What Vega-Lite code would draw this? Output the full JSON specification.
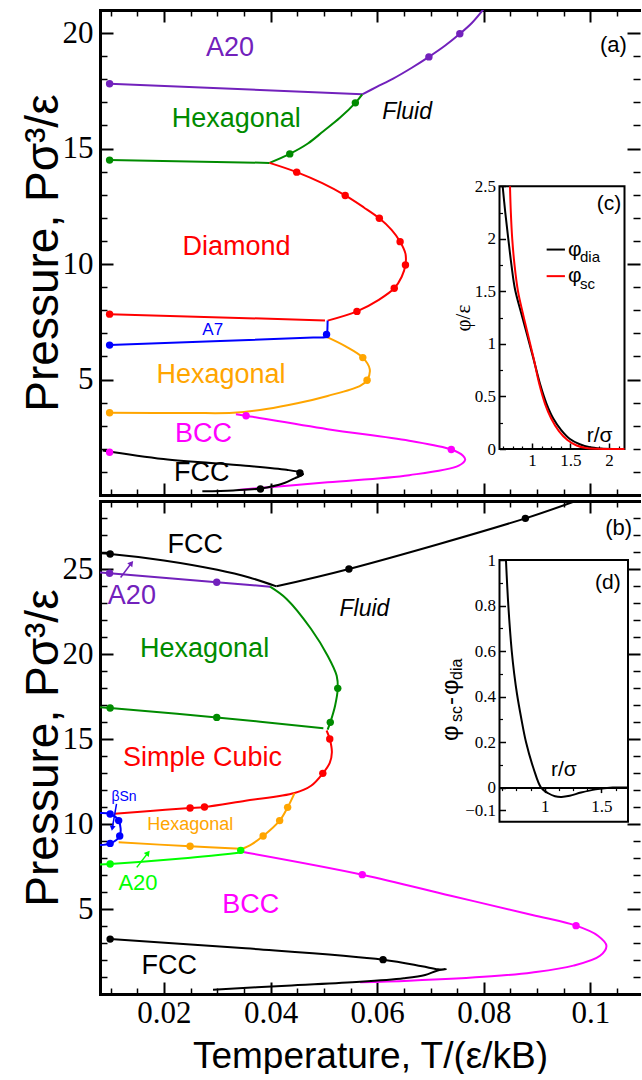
{
"$schema": "https://vega.github.io/schema/vega-lite/v6.json",
"padding": {"left": 20, "top": 9, "right": 0, "bottom": 0},
"background": "white",
"spacing": 4,
"config": {
  "view": {"stroke": null},
  "axis": {"grid": false, "domain": false, "minExtent": 0, "zindex": 1, "tickColor": "black", "labelColor": "black", "titleColor": "black", "tickWidth": 2, "labelOverlap": false, "domainColor": "black", "domainWidth": 3, "domainCap": "square"},
  "text": {"font": "Liberation Sans"},
  "font": "Liberation Sans"
},
"datasets": {
  "lines_a": [
    {"c":"a1","ph":"A20","i":0,"T":0.0572,"P":17.35},{"c":"a1","ph":"A20","i":1,"T":0.0600,"P":17.68},{"c":"a1","ph":"A20","i":2,"T":0.0630,"P":18.03},{"c":"a1","ph":"A20","i":3,"T":0.0665,"P":18.5},{"c":"a1","ph":"A20","i":4,"T":0.0697,"P":18.97},{"c":"a1","ph":"A20","i":5,"T":0.0727,"P":19.45},{"c":"a1","ph":"A20","i":6,"T":0.0755,"P":19.97},{"c":"a1","ph":"A20","i":7,"T":0.0778,"P":20.45},{"c":"a1","ph":"A20","i":8,"T":0.0800,"P":21.05},
    {"c":"a2","ph":"A20","i":0,"T":0.0098,"P":17.81},{"c":"a2","ph":"A20","i":1,"T":0.0572,"P":17.35},
    {"c":"a3","ph":"Hexagonal","i":0,"T":0.0398,"P":14.38},{"c":"a3","ph":"Hexagonal","i":1,"T":0.0436,"P":14.77},{"c":"a3","ph":"Hexagonal","i":2,"T":0.047,"P":15.22},{"c":"a3","ph":"Hexagonal","i":3,"T":0.0499,"P":15.75},{"c":"a3","ph":"Hexagonal","i":4,"T":0.053,"P":16.33},{"c":"a3","ph":"Hexagonal","i":5,"T":0.0559,"P":16.98},{"c":"a3","ph":"Hexagonal","i":6,"T":0.0572,"P":17.35},
    {"c":"a4","ph":"Hexagonal","i":0,"T":0.0098,"P":14.5},{"c":"a4","ph":"Hexagonal","i":1,"T":0.0398,"P":14.38},
    {"c":"a5","ph":"Diamond","i":0,"T":0.0398,"P":14.38},{"c":"a5","ph":"Diamond","i":1,"T":0.0449,"P":13.98},{"c":"a5","ph":"Diamond","i":2,"T":0.0497,"P":13.5},{"c":"a5","ph":"Diamond","i":3,"T":0.054,"P":12.97},{"c":"a5","ph":"Diamond","i":4,"T":0.0575,"P":12.45},{"c":"a5","ph":"Diamond","i":5,"T":0.0604,"P":11.98},{"c":"a5","ph":"Diamond","i":6,"T":0.0627,"P":11.48},{"c":"a5","ph":"Diamond","i":7,"T":0.0643,"P":10.97},{"c":"a5","ph":"Diamond","i":8,"T":0.0653,"P":10.45},{"c":"a5","ph":"Diamond","i":9,"T":0.0653,"P":9.96},{"c":"a5","ph":"Diamond","i":10,"T":0.0646,"P":9.45},{"c":"a5","ph":"Diamond","i":11,"T":0.0632,"P":8.95},{"c":"a5","ph":"Diamond","i":12,"T":0.0603,"P":8.45},{"c":"a5","ph":"Diamond","i":13,"T":0.0562,"P":7.95},{"c":"a5","ph":"Diamond","i":14,"T":0.0507,"P":7.55},
    {"c":"a6","ph":"Diamond","i":0,"T":0.0098,"P":7.83},{"c":"a6","ph":"Diamond","i":1,"T":0.0502,"P":7.56},
    {"c":"a7","ph":"A7","i":0,"T":0.0098,"P":6.49},{"c":"a7","ph":"A7","i":1,"T":0.048,"P":6.82},{"c":"a7","ph":"A7","i":2,"T":0.0505,"P":6.85},{"c":"a7","ph":"A7","i":3,"T":0.0506,"P":6.95},{"c":"a7","ph":"A7","i":4,"T":0.0507,"P":7.55},
    {"c":"a8","ph":"HexagonalLow","i":0,"T":0.0098,"P":3.56},{"c":"a8","ph":"HexagonalLow","i":1,"T":0.025,"P":3.55},{"c":"a8","ph":"HexagonalLow","i":2,"T":0.033,"P":3.56},{"c":"a8","ph":"HexagonalLow","i":3,"T":0.0392,"P":3.72},{"c":"a8","ph":"HexagonalLow","i":4,"T":0.045,"P":3.97},{"c":"a8","ph":"HexagonalLow","i":5,"T":0.0507,"P":4.29},{"c":"a8","ph":"HexagonalLow","i":6,"T":0.0568,"P":4.73},{"c":"a8","ph":"HexagonalLow","i":7,"T":0.0581,"P":4.97},{"c":"a8","ph":"HexagonalLow","i":8,"T":0.0586,"P":5.45},{"c":"a8","ph":"HexagonalLow","i":9,"T":0.0573,"P":5.95},{"c":"a8","ph":"HexagonalLow","i":10,"T":0.054,"P":6.45},{"c":"a8","ph":"HexagonalLow","i":11,"T":0.0505,"P":6.85},
    {"c":"a9","ph":"BCC","i":0,"T":0.0335,"P":3.5},{"c":"a9","ph":"BCC","i":1,"T":0.0354,"P":3.43},{"c":"a9","ph":"BCC","i":2,"T":0.0507,"P":2.85},{"c":"a9","ph":"BCC","i":3,"T":0.066,"P":2.35},{"c":"a9","ph":"BCC","i":4,"T":0.0739,"P":1.97},{"c":"a9","ph":"BCC","i":5,"T":0.0761,"P":1.7},{"c":"a9","ph":"BCC","i":6,"T":0.0765,"P":1.53},{"c":"a9","ph":"BCC","i":7,"T":0.0753,"P":1.27},{"c":"a9","ph":"BCC","i":8,"T":0.066,"P":0.86},{"c":"a9","ph":"BCC","i":9,"T":0.0507,"P":0.55},{"c":"a9","ph":"BCC","i":10,"T":0.0338,"P":0.22},
    {"c":"a10","ph":"FCC","i":0,"T":0.0085,"P":1.93},{"c":"a10","ph":"FCC","i":1,"T":0.0199,"P":1.56},{"c":"a10","ph":"FCC","i":2,"T":0.0353,"P":1.27},{"c":"a10","ph":"FCC","i":3,"T":0.043,"P":1.09},{"c":"a10","ph":"FCC","i":4,"T":0.0457,"P":0.97},{"c":"a10","ph":"FCC","i":5,"T":0.0461,"P":0.9},{"c":"a10","ph":"FCC","i":6,"T":0.0445,"P":0.72},{"c":"a10","ph":"FCC","i":7,"T":0.0426,"P":0.52},{"c":"a10","ph":"FCC","i":8,"T":0.0381,"P":0.28},{"c":"a10","ph":"FCC","i":9,"T":0.033,"P":0.2},{"c":"a10","ph":"FCC","i":10,"T":0.0272,"P":0.16}
  ],
  "dots_a": [
    {"ph":"A20","T":0.0098,"P":17.81},{"ph":"A20","T":0.0697,"P":18.97},{"ph":"A20","T":0.0755,"P":19.97},
    {"ph":"Hexagonal","T":0.0098,"P":14.5},{"ph":"Hexagonal","T":0.0436,"P":14.77},{"ph":"Hexagonal","T":0.0559,"P":16.98},
    {"ph":"Diamond","T":0.0098,"P":7.83},{"ph":"Diamond","T":0.0449,"P":13.98},{"ph":"Diamond","T":0.054,"P":12.97},{"ph":"Diamond","T":0.0604,"P":11.98},{"ph":"Diamond","T":0.0643,"P":10.97},{"ph":"Diamond","T":0.0653,"P":9.96},{"ph":"Diamond","T":0.0632,"P":8.95},{"ph":"Diamond","T":0.0562,"P":7.95},
    {"ph":"A7","T":0.0098,"P":6.49},{"ph":"A7","T":0.0505,"P":6.95},
    {"ph":"HexagonalLow","T":0.0098,"P":3.56},{"ph":"HexagonalLow","T":0.0573,"P":5.95},{"ph":"HexagonalLow","T":0.0581,"P":4.97},
    {"ph":"BCC","T":0.0098,"P":1.85},{"ph":"BCC","T":0.0354,"P":3.43},{"ph":"BCC","T":0.0739,"P":1.97},
    {"ph":"FCC","T":0.0455,"P":0.95},{"ph":"FCC","T":0.0381,"P":0.26}
  ],
  "lab_a27": [
    {"T":0.0324,"P":19.36,"label":"A20","ph":"A20"},
    {"T":0.03355,"P":16.3,"label":"Hexagonal","ph":"Hexagonal"},
    {"T":0.0336,"P":10.72,"label":"Diamond","ph":"Diamond"},
    {"T":0.0307,"P":5.19,"label":"Hexagonal","ph":"HexagonalLow"},
    {"T":0.02743,"P":2.64,"label":"BCC","ph":"BCC"},
    {"T":0.02707,"P":0.95,"label":"FCC","ph":"FCC"}
  ],
  "lines_b": [
    {"c":"b1","ph":"FCC","i":0,"T":0.0411,"P":23.98},{"c":"b1","ph":"FCC","i":1,"T":0.0547,"P":25.0},{"c":"b1","ph":"FCC","i":2,"T":0.0878,"P":27.98},{"c":"b1","ph":"FCC","i":3,"T":0.0972,"P":29.0},
    {"c":"b2","ph":"FCC","i":0,"T":0.008,"P":25.92},{"c":"b2","ph":"FCC","i":1,"T":0.0099,"P":25.88},{"c":"b2","ph":"FCC","i":2,"T":0.02,"P":25.5},{"c":"b2","ph":"FCC","i":3,"T":0.03,"P":24.95},{"c":"b2","ph":"FCC","i":4,"T":0.036,"P":24.5},{"c":"b2","ph":"FCC","i":5,"T":0.0411,"P":23.98},
    {"c":"b3","ph":"A20","i":0,"T":0.008,"P":24.8},{"c":"b3","ph":"A20","i":1,"T":0.0098,"P":24.75},{"c":"b3","ph":"A20","i":2,"T":0.0299,"P":24.22},{"c":"b3","ph":"A20","i":3,"T":0.0399,"P":23.96},
    {"c":"b4","ph":"Hexagonal","i":0,"T":0.0399,"P":23.96},{"c":"b4","ph":"Hexagonal","i":1,"T":0.043,"P":23.24},{"c":"b4","ph":"Hexagonal","i":2,"T":0.0476,"P":21.47},{"c":"b4","ph":"Hexagonal","i":3,"T":0.0507,"P":19.9},{"c":"b4","ph":"Hexagonal","i":4,"T":0.0524,"P":18.72},{"c":"b4","ph":"Hexagonal","i":5,"T":0.0526,"P":17.98},{"c":"b4","ph":"Hexagonal","i":6,"T":0.0521,"P":16.96},{"c":"b4","ph":"Hexagonal","i":7,"T":0.0512,"P":15.98},{"c":"b4","ph":"Hexagonal","i":8,"T":0.0507,"P":15.55},
    {"c":"b5","ph":"Hexagonal","i":0,"T":0.008,"P":16.87},{"c":"b5","ph":"Hexagonal","i":1,"T":0.0099,"P":16.82},{"c":"b5","ph":"Hexagonal","i":2,"T":0.0299,"P":16.27},{"c":"b5","ph":"Hexagonal","i":3,"T":0.0499,"P":15.63},
    {"c":"b6","ph":"SimpleCubic","i":0,"T":0.0505,"P":15.5},{"c":"b6","ph":"SimpleCubic","i":1,"T":0.0511,"P":15.0},{"c":"b6","ph":"SimpleCubic","i":2,"T":0.0515,"P":14.22},{"c":"b6","ph":"SimpleCubic","i":3,"T":0.0511,"P":13.6},{"c":"b6","ph":"SimpleCubic","i":4,"T":0.0498,"P":12.98},{"c":"b6","ph":"SimpleCubic","i":5,"T":0.0476,"P":12.25},{"c":"b6","ph":"SimpleCubic","i":6,"T":0.0445,"P":11.82},{"c":"b6","ph":"SimpleCubic","i":7,"T":0.0353,"P":11.37},{"c":"b6","ph":"SimpleCubic","i":8,"T":0.0276,"P":11.0},{"c":"b6","ph":"SimpleCubic","i":9,"T":0.0249,"P":10.94},{"c":"b6","ph":"SimpleCubic","i":10,"T":0.018,"P":10.78},{"c":"b6","ph":"SimpleCubic","i":11,"T":0.0107,"P":10.6},
    {"c":"b7","ph":"HexagonalLow","i":0,"T":0.0445,"P":11.82},{"c":"b7","ph":"HexagonalLow","i":1,"T":0.0432,"P":10.98},{"c":"b7","ph":"HexagonalLow","i":2,"T":0.0417,"P":10.2},{"c":"b7","ph":"HexagonalLow","i":3,"T":0.0386,"P":9.29},{"c":"b7","ph":"HexagonalLow","i":4,"T":0.0365,"P":8.82},{"c":"b7","ph":"HexagonalLow","i":5,"T":0.0344,"P":8.5},
    {"c":"b8","ph":"HexagonalLow","i":0,"T":0.0115,"P":8.92},{"c":"b8","ph":"HexagonalLow","i":1,"T":0.0249,"P":8.69},{"c":"b8","ph":"HexagonalLow","i":2,"T":0.0344,"P":8.55},
    {"c":"b9","ph":"betaSn","i":0,"T":0.008,"P":10.65},{"c":"b9","ph":"betaSn","i":1,"T":0.0099,"P":10.59},{"c":"b9","ph":"betaSn","i":2,"T":0.0115,"P":10.2},{"c":"b9","ph":"betaSn","i":3,"T":0.0117,"P":9.29},{"c":"b9","ph":"betaSn","i":4,"T":0.0099,"P":8.86},{"c":"b9","ph":"betaSn","i":5,"T":0.008,"P":8.76},
    {"c":"b10","ph":"A20Low","i":0,"T":0.008,"P":7.62},{"c":"b10","ph":"A20Low","i":1,"T":0.0099,"P":7.65},{"c":"b10","ph":"A20Low","i":2,"T":0.0222,"P":7.94},{"c":"b10","ph":"A20Low","i":3,"T":0.0344,"P":8.33},
    {"c":"b11","ph":"BCC","i":0,"T":0.0344,"P":8.38},{"c":"b11","ph":"BCC","i":1,"T":0.0572,"P":7.02},{"c":"b11","ph":"BCC","i":2,"T":0.0738,"P":5.78},{"c":"b11","ph":"BCC","i":3,"T":0.0891,"P":4.65},{"c":"b11","ph":"BCC","i":4,"T":0.0973,"P":4.02},{"c":"b11","ph":"BCC","i":5,"T":0.1014,"P":3.43},{"c":"b11","ph":"BCC","i":6,"T":0.103,"P":2.84},{"c":"b11","ph":"BCC","i":7,"T":0.1018,"P":2.25},{"c":"b11","ph":"BCC","i":8,"T":0.0968,"P":1.67},{"c":"b11","ph":"BCC","i":9,"T":0.0891,"P":1.27},{"c":"b11","ph":"BCC","i":10,"T":0.0814,"P":1.04},{"c":"b11","ph":"BCC","i":11,"T":0.066,"P":0.78},{"c":"b11","ph":"BCC","i":12,"T":0.0568,"P":0.69},
    {"c":"b12","ph":"FCC","i":0,"T":0.0099,"P":3.23},{"c":"b12","ph":"FCC","i":1,"T":0.0353,"P":2.69},{"c":"b12","ph":"FCC","i":2,"T":0.0611,"P":2.02},{"c":"b12","ph":"FCC","i":3,"T":0.0684,"P":1.63},{"c":"b12","ph":"FCC","i":4,"T":0.0714,"P":1.45},{"c":"b12","ph":"FCC","i":5,"T":0.0729,"P":1.46},{"c":"b12","ph":"FCC","i":6,"T":0.0712,"P":1.37},{"c":"b12","ph":"FCC","i":7,"T":0.069,"P":1.12},{"c":"b12","ph":"FCC","i":8,"T":0.065,"P":0.93},{"c":"b12","ph":"FCC","i":9,"T":0.0568,"P":0.72},{"c":"b12","ph":"FCC","i":10,"T":0.043,"P":0.49},{"c":"b12","ph":"FCC","i":11,"T":0.0292,"P":0.25}
  ],
  "dots_b": [
    {"ph":"FCC","T":0.0099,"P":25.88},{"ph":"FCC","T":0.0547,"P":25.0},{"ph":"FCC","T":0.0878,"P":27.98},{"ph":"FCC","T":0.0099,"P":3.23},{"ph":"FCC","T":0.0611,"P":2.02},
    {"ph":"A20","T":0.0098,"P":24.75},{"ph":"A20","T":0.0299,"P":24.22},
    {"ph":"Hexagonal","T":0.0099,"P":16.82},{"ph":"Hexagonal","T":0.0299,"P":16.27},{"ph":"Hexagonal","T":0.0526,"P":17.98},{"ph":"Hexagonal","T":0.0512,"P":15.98},
    {"ph":"SimpleCubic","T":0.0511,"P":15.0},{"ph":"SimpleCubic","T":0.0498,"P":12.98},{"ph":"SimpleCubic","T":0.0276,"P":11.0},{"ph":"SimpleCubic","T":0.0249,"P":10.94},
    {"ph":"HexagonalLow","T":0.0432,"P":10.98},{"ph":"HexagonalLow","T":0.0417,"P":10.2},{"ph":"HexagonalLow","T":0.0386,"P":9.29},{"ph":"HexagonalLow","T":0.0249,"P":8.69},
    {"ph":"betaSn","T":0.0099,"P":10.59},{"ph":"betaSn","T":0.0115,"P":10.2},{"ph":"betaSn","T":0.0117,"P":9.29},{"ph":"betaSn","T":0.0099,"P":8.86},
    {"ph":"A20Low","T":0.0099,"P":7.65},{"ph":"A20Low","T":0.0344,"P":8.45},
    {"ph":"BCC","T":0.0572,"P":7.02},{"ph":"BCC","T":0.0973,"P":4.02}
  ],
  "lab_b27": [
    {"T":0.02589,"P":26.42,"label":"FCC","ph":"FCC"},
    {"T":0.01398,"P":23.43,"label":"A20","ph":"A20"},
    {"T":0.02762,"P":20.3,"label":"Hexagonal","ph":"Hexagonal"},
    {"T":0.02724,"P":13.88,"label":"Simple Cubic","ph":"SimpleCubic"},
    {"T":0.03627,"P":5.24,"label":"BCC","ph":"BCC"},
    {"T":0.02101,"P":1.62,"label":"FCC","ph":"FCC"}
  ],
  "arrows_b": [
    {"ph":"A20","T":0.01186,"P":24.5,"T2":0.0139,"P2":25.35},
    {"ph":"A20Low","T":0.0149,"P":7.45,"T2":0.017,"P2":8.3},
    {"ph":"betaSn","T":0.0111,"P":11.18,"T2":0.0103,"P2":9.75}
  ],
  "heads_b": [
    {"ph":"A20","T":0.0139,"P":25.35},
    {"ph":"A20Low","T":0.017,"P":8.3},
    {"ph":"betaSn","T":0.0103,"P":9.75}
  ],
  "inset_c": [
    {"ph":"dia","i":0,"r":0.621,"v":2.5},{"ph":"dia","i":1,"r":0.655,"v":2.25},{"ph":"dia","i":2,"r":0.694,"v":2.0},{"ph":"dia","i":3,"r":0.735,"v":1.75},{"ph":"dia","i":4,"r":0.781,"v":1.52},{"ph":"dia","i":5,"r":0.87,"v":1.27},{"ph":"dia","i":6,"r":0.94,"v":1.08},{"ph":"dia","i":7,"r":1.02,"v":0.86},{"ph":"dia","i":8,"r":1.105,"v":0.62},{"ph":"dia","i":9,"r":1.19,"v":0.43},{"ph":"dia","i":10,"r":1.277,"v":0.29},{"ph":"dia","i":11,"r":1.38,"v":0.18},{"ph":"dia","i":12,"r":1.493,"v":0.095},{"ph":"dia","i":13,"r":1.62,"v":0.045},{"ph":"dia","i":14,"r":1.752,"v":0.016},{"ph":"dia","i":15,"r":1.9,"v":0.004},{"ph":"dia","i":16,"r":2.05,"v":0.0},{"ph":"dia","i":17,"r":2.2,"v":0.0},
    {"ph":"sc","i":0,"r":0.716,"v":2.5},{"ph":"sc","i":1,"r":0.727,"v":2.25},{"ph":"sc","i":2,"r":0.745,"v":2.0},{"ph":"sc","i":3,"r":0.775,"v":1.75},{"ph":"sc","i":4,"r":0.82,"v":1.5},{"ph":"sc","i":5,"r":0.88,"v":1.3},{"ph":"sc","i":6,"r":0.945,"v":1.1},{"ph":"sc","i":7,"r":1.02,"v":0.87},{"ph":"sc","i":8,"r":1.095,"v":0.62},{"ph":"sc","i":9,"r":1.17,"v":0.43},{"ph":"sc","i":10,"r":1.25,"v":0.29},{"ph":"sc","i":11,"r":1.35,"v":0.17},{"ph":"sc","i":12,"r":1.46,"v":0.085},{"ph":"sc","i":13,"r":1.58,"v":0.033},{"ph":"sc","i":14,"r":1.7,"v":0.01},{"ph":"sc","i":15,"r":1.85,"v":0.002},{"ph":"sc","i":16,"r":2.05,"v":0.0},{"ph":"sc","i":17,"r":2.2,"v":0.0}
  ],
  "inset_d": [
    {"i":0,"r":0.657,"v":1.0},{"i":1,"r":0.678,"v":0.8},{"i":2,"r":0.708,"v":0.6},{"i":3,"r":0.73,"v":0.5},{"i":4,"r":0.755,"v":0.41},{"i":5,"r":0.79,"v":0.31},{"i":6,"r":0.834,"v":0.2},{"i":7,"r":0.9,"v":0.085},{"i":8,"r":0.967,"v":0.0},{"i":9,"r":1.03,"v":-0.025},{"i":10,"r":1.09,"v":-0.038},{"i":11,"r":1.148,"v":-0.041},{"i":12,"r":1.22,"v":-0.036},{"i":13,"r":1.32,"v":-0.022},{"i":14,"r":1.45,"v":-0.008},{"i":15,"r":1.6,"v":0.0},{"i":16,"r":1.735,"v":0.0}
  ]
},
"vconcat": [
{
  "width": 540, "height": 485,
  "resolve": {"scale": {"x": "independent", "y": "independent"}},
  "layer": [
    {
      "encoding": {
        "x": {"field": "T", "type": "quantitative", "scale": {"domain": [0.008, 0.1093], "nice": false, "zero": false}, "axis": null},
        "y": {"field": "P", "type": "quantitative", "scale": {"domain": [0, 21], "nice": false, "zero": false}, "axis": null}
      },
      "resolve": {"axis": {"x": "independent", "y": "independent"}},
      "layer": [
        {"data": {"name": "dots_a"}, "mark": {"type": "point", "opacity": 0},
         "encoding": {
           "x": {"field": "T", "type": "quantitative", "scale": {"domain": [0.008, 0.1093], "nice": false, "zero": false}, "axis": {"orient": "bottom", "values": [0.02, 0.04, 0.06, 0.08, 0.1], "tickSize": -12, "labels": false, "title": null, "domain": true}},
           "y": {"field": "P", "type": "quantitative", "scale": {"domain": [0, 21], "nice": false, "zero": false}, "axis": {"orient": "left", "domain": true, "values": [5, 10, 15, 20], "tickSize": -13, "labelPadding": 20, "labelFont": "Liberation Serif", "labelFontSize": 31, "format": "d", "title": "Pressure, Pσ³/ε", "titleFont": "Liberation Sans", "titleFontSize": 46, "titleFontWeight": "normal", "titleBaseline": "alphabetic", "titlePadding": 5}}
         }},
        {"data": {"name": "dots_a"}, "mark": {"type": "point", "opacity": 0},
         "encoding": {
           "x": {"field": "T", "type": "quantitative", "scale": {"domain": [0.008, 0.1093], "nice": false, "zero": false}, "axis": {"orient": "bottom", "values": [0.01, 0.015, 0.025, 0.03, 0.035, 0.045, 0.05, 0.055, 0.065, 0.07, 0.075, 0.085, 0.09, 0.095, 0.105], "tickSize": -6, "tickWidth": 1.5, "labels": false, "title": null}},
           "y": {"field": "P", "type": "quantitative", "scale": {"domain": [0, 21], "nice": false, "zero": false}, "axis": {"orient": "left", "values": [1, 2, 3, 4, 6, 7, 8, 9, 11, 12, 13, 14, 16, 17, 18, 19], "tickSize": -7, "tickWidth": 1.5, "labels": false, "title": null}}
         }},
        {"data": {"name": "dots_a"}, "mark": {"type": "point", "opacity": 0},
         "encoding": {
           "x": {"field": "T", "type": "quantitative", "scale": {"domain": [0.008, 0.1093], "nice": false, "zero": false}, "axis": {"orient": "top", "domain": true, "values": [0.02, 0.04, 0.06, 0.08, 0.1], "tickSize": -12, "labels": false, "title": null}},
           "y": {"field": "P", "type": "quantitative", "scale": {"domain": [0, 21], "nice": false, "zero": false}, "axis": {"orient": "right", "values": [5, 10, 15, 20], "tickSize": -13, "labels": false, "title": null}}
         }},
        {"data": {"name": "dots_a"}, "mark": {"type": "point", "opacity": 0},
         "encoding": {
           "x": {"field": "T", "type": "quantitative", "scale": {"domain": [0.008, 0.1093], "nice": false, "zero": false}, "axis": {"orient": "top", "values": [0.01, 0.015, 0.025, 0.03, 0.035, 0.045, 0.05, 0.055, 0.065, 0.07, 0.075, 0.085, 0.09, 0.095, 0.105], "tickSize": -6, "tickWidth": 1.5, "labels": false, "title": null}},
           "y": {"field": "P", "type": "quantitative", "scale": {"domain": [0, 21], "nice": false, "zero": false}, "axis": {"orient": "right", "values": [1, 2, 3, 4, 6, 7, 8, 9, 11, 12, 13, 14, 16, 17, 18, 19], "tickSize": -7, "tickWidth": 1.5, "labels": false, "title": null}}
         }},
        {"data": {"name": "lines_a"}, "mark": {"type": "line", "strokeWidth": 2, "interpolate": "catmull-rom", "clip": true},
         "encoding": {"detail": {"field": "c", "type": "nominal"}, "order": {"field": "i", "type": "quantitative"},
           "color": {"field": "ph", "type": "nominal", "legend": null, "scale": {"domain": ["A20","Hexagonal","Diamond","SimpleCubic","A7","betaSn","HexagonalLow","BCC","FCC","A20Low","dia","sc"], "range": ["#7221bc","#008b00","#ff0000","#ff0000","#0000ff","#0000ff","#ffa500","#ff00ff","#000000","#00ff00","#000000","#ff0000"]}}}},
        {"data": {"name": "dots_a"}, "mark": {"type": "point", "filled": true, "size": 55, "opacity": 1},
         "encoding": {"color": {"field": "ph", "type": "nominal", "legend": null, "scale": {"domain": ["A20","Hexagonal","Diamond","SimpleCubic","A7","betaSn","HexagonalLow","BCC","FCC","A20Low","dia","sc"], "range": ["#7221bc","#008b00","#ff0000","#ff0000","#0000ff","#0000ff","#ffa500","#ff00ff","#000000","#00ff00","#000000","#ff0000"]}}}},
        {"data": {"name": "lab_a27"}, "mark": {"type": "text", "fontSize": 27, "align": "center", "baseline": "middle"},
         "encoding": {"text": {"field": "label"}, "color": {"field": "ph", "type": "nominal", "legend": null, "scale": {"domain": ["A20","Hexagonal","Diamond","SimpleCubic","A7","betaSn","HexagonalLow","BCC","FCC","A20Low","dia","sc"], "range": ["#7221bc","#008b00","#ff0000","#ff0000","#0000ff","#0000ff","#ffa500","#ff00ff","#000000","#00ff00","#000000","#ff0000"]}}}},
        {"data": {"values": [{"T": 0.02914, "P": 7.13, "label": "A7"}]}, "mark": {"type": "text", "fontSize": 17, "color": "#0000ff", "align": "center", "baseline": "middle"},
         "encoding": {"text": {"field": "label"}}},
        {"data": {"values": [{"T": 0.0656, "P": 16.57, "label": "Fluid"}]}, "mark": {"type": "text", "fontSize": 23, "fontStyle": "italic", "color": "black", "align": "center", "baseline": "middle"},
         "encoding": {"text": {"field": "label"}}},
        {"data": {"values": [{"T": 0.1043, "P": 19.5, "label": "(a)"}]}, "mark": {"type": "text", "fontSize": 22, "color": "black", "align": "center", "baseline": "middle"},
         "encoding": {"text": {"field": "label"}}}
      ]
    },
    {
      "encoding": {
        "x": {"field": "r", "type": "quantitative", "scale": {"domain": [0.58, 2.2], "range": [399.5, 524.5], "nice": false, "zero": false}, "axis": null},
        "y": {"field": "v", "type": "quantitative", "scale": {"domain": [0, 2.5], "range": [439, 176.3], "nice": false, "zero": false}, "axis": null}
      },
      "resolve": {"axis": {"x": "independent", "y": "independent"}},
      "layer": [
        {"data": {"values": [{"r0": 0.58, "r1": 2.2, "v0": 0, "v1": 2.5}]}, "mark": {"type": "rect", "filled": false, "stroke": "black", "strokeWidth": 2},
         "encoding": {
           "x": {"field": "r0", "type": "quantitative", "scale": {"domain": [0.58, 2.2], "range": [399.5, 524.5], "nice": false, "zero": false}, "axis": {"orient": "bottom", "offset": -46, "values": [1, 1.5, 2], "tickSize": -6, "tickWidth": 1.5, "labelPadding": 9, "labelFont": "Liberation Serif", "labelFontSize": 17, "format": "~g", "title": null}},
           "x2": {"field": "r1"},
           "y": {"field": "v0", "type": "quantitative", "scale": {"domain": [0, 2.5], "range": [439, 176.3], "nice": false, "zero": false}, "axis": {"orient": "left", "offset": -399.5, "values": [0, 0.5, 1, 1.5, 2, 2.5], "tickSize": -6, "tickWidth": 1.5, "labelPadding": 10, "labelFont": "Liberation Serif", "labelFontSize": 17, "format": "~g", "title": "φ/ε", "titleFont": "Liberation Serif", "titleFontSize": 21, "titleFontWeight": "normal", "titleBaseline": "alphabetic", "titlePadding": 5}},
           "y2": {"field": "v1"}
         }},
        {"data": {"name": "inset_c"}, "mark": {"type": "line", "strokeWidth": 2, "interpolate": "catmull-rom"},
         "encoding": {
           "x": {"field": "r", "type": "quantitative", "scale": {"domain": [0.58, 2.2], "range": [399.5, 524.5], "nice": false, "zero": false}, "axis": {"orient": "bottom", "offset": -46, "values": [0.625, 0.75, 0.875, 1.125, 1.25, 1.375, 1.625, 1.75, 1.875, 2.125], "tickSize": -3, "tickWidth": 1.2, "labels": false, "title": null}},
           "y": {"field": "v", "type": "quantitative", "scale": {"domain": [0, 2.5], "range": [439, 176.3], "nice": false, "zero": false}, "axis": {"orient": "left", "offset": -399.5, "values": [0.25, 0.75, 1.25, 1.75, 2.25], "tickSize": -3, "tickWidth": 1.2, "labels": false, "title": null}},
           "detail": {"field": "ph", "type": "nominal"}, "order": {"field": "i", "type": "quantitative"},
           "color": {"field": "ph", "type": "nominal", "legend": null, "scale": {"domain": ["A20","Hexagonal","Diamond","SimpleCubic","A7","betaSn","HexagonalLow","BCC","FCC","A20Low","dia","sc"], "range": ["#7221bc","#008b00","#ff0000","#ff0000","#0000ff","#0000ff","#ffa500","#ff00ff","#000000","#00ff00","#000000","#ff0000"]}}
         }},
        {"data": {"values": [{"r": 1.191, "r2": 1.428, "v": 1.898, "ph": "dia"}, {"r": 1.191, "r2": 1.428, "v": 1.645, "ph": "sc"}]}, "mark": {"type": "rule", "strokeWidth": 2},
         "encoding": {"x2": {"field": "r2"}, "color": {"field": "ph", "type": "nominal", "legend": null, "scale": {"domain": ["A20","Hexagonal","Diamond","SimpleCubic","A7","betaSn","HexagonalLow","BCC","FCC","A20Low","dia","sc"], "range": ["#7221bc","#008b00","#ff0000","#ff0000","#0000ff","#0000ff","#ffa500","#ff00ff","#000000","#00ff00","#000000","#ff0000"]}}}},
        {"data": {"values": [{"r": 1.467, "v": 1.838, "label": "φ"}, {"r": 1.467, "v": 1.59, "label": "φ"}]}, "mark": {"type": "text", "fontSize": 21, "align": "left", "baseline": "alphabetic", "color": "black"},
         "encoding": {"text": {"field": "label"}}},
        {"data": {"values": [{"r": 1.623, "v": 1.781, "label": "dia"}, {"r": 1.623, "v": 1.524, "label": "sc"}]}, "mark": {"type": "text", "fontSize": 15, "align": "left", "baseline": "alphabetic", "color": "black"},
         "encoding": {"text": {"field": "label"}}},
        {"data": {"values": [{"r": 1.839, "v": 2.276, "label": "(c)"}, {"r": 1.71, "v": 0.067, "label": "r/σ"}]}, "mark": {"type": "text", "fontSize": 21, "align": "left", "baseline": "alphabetic", "color": "black"},
         "encoding": {"text": {"field": "label"}}}
      ]
    }
  ]
},
{
  "width": 540, "height": 493,
  "resolve": {"scale": {"x": "independent", "y": "independent"}},
  "layer": [
    {
      "encoding": {
        "x": {"field": "T", "type": "quantitative", "scale": {"domain": [0.008, 0.1093], "nice": false, "zero": false}, "axis": null},
        "y": {"field": "P", "type": "quantitative", "scale": {"domain": [0, 29], "nice": false, "zero": false}, "axis": null}
      },
      "resolve": {"axis": {"x": "independent", "y": "independent"}},
      "layer": [
        {"data": {"name": "dots_b"}, "mark": {"type": "point", "opacity": 0},
         "encoding": {
           "x": {"field": "T", "type": "quantitative", "scale": {"domain": [0.008, 0.1093], "nice": false, "zero": false}, "axis": {"orient": "bottom", "domain": true, "values": [0.02, 0.04, 0.06, 0.08, 0.1], "ticks": false, "labelPadding": 4, "labelFont": "Liberation Serif", "labelFontSize": 31, "format": "~g", "title": "Temperature, T/(ε/kB)", "titleFont": "Liberation Sans", "titleFontSize": 37, "titleFontWeight": "normal", "titleBaseline": "alphabetic", "titlePadding": 39}},
           "y": {"field": "P", "type": "quantitative", "scale": {"domain": [0, 29], "nice": false, "zero": false}, "axis": {"orient": "left", "domain": true, "values": [5, 10, 15, 20, 25], "tickSize": -13, "labelPadding": 20, "labelFont": "Liberation Serif", "labelFontSize": 31, "format": "d", "title": "Pressure, Pσ³/ε", "titleFont": "Liberation Sans", "titleFontSize": 46, "titleFontWeight": "normal", "titleBaseline": "alphabetic", "titlePadding": 5}}
         }},
        {"data": {"name": "dots_b"}, "mark": {"type": "point", "opacity": 0},
         "encoding": {
           "x": {"field": "T", "type": "quantitative", "scale": {"domain": [0.008, 0.1093], "nice": false, "zero": false}, "axis": {"orient": "bottom", "values": [0.02, 0.04, 0.06, 0.08, 0.1], "tickSize": -12, "labels": false, "title": null}}
         }},
        {"data": {"name": "dots_b"}, "mark": {"type": "point", "opacity": 0},
         "encoding": {
           "x": {"field": "T", "type": "quantitative", "scale": {"domain": [0.008, 0.1093], "nice": false, "zero": false}, "axis": {"orient": "bottom", "values": [0.01, 0.015, 0.025, 0.03, 0.035, 0.045, 0.05, 0.055, 0.065, 0.07, 0.075, 0.085, 0.09, 0.095, 0.105], "tickSize": -6, "tickWidth": 1.5, "labels": false, "title": null}},
           "y": {"field": "P", "type": "quantitative", "scale": {"domain": [0, 29], "nice": false, "zero": false}, "axis": {"orient": "left", "values": [1, 2, 3, 4, 6, 7, 8, 9, 11, 12, 13, 14, 16, 17, 18, 19, 21, 22, 23, 24, 26, 27, 28], "tickSize": -7, "tickWidth": 1.5, "labels": false, "title": null}}
         }},
        {"data": {"name": "dots_b"}, "mark": {"type": "point", "opacity": 0},
         "encoding": {
           "x": {"field": "T", "type": "quantitative", "scale": {"domain": [0.008, 0.1093], "nice": false, "zero": false}, "axis": {"orient": "top", "domain": true, "values": [0.02, 0.04, 0.06, 0.08, 0.1], "tickSize": -12, "labels": false, "title": null}},
           "y": {"field": "P", "type": "quantitative", "scale": {"domain": [0, 29], "nice": false, "zero": false}, "axis": {"orient": "right", "values": [5, 10, 15, 20, 25], "tickSize": -13, "labels": false, "title": null}}
         }},
        {"data": {"name": "dots_b"}, "mark": {"type": "point", "opacity": 0},
         "encoding": {
           "x": {"field": "T", "type": "quantitative", "scale": {"domain": [0.008, 0.1093], "nice": false, "zero": false}, "axis": {"orient": "top", "values": [0.01, 0.015, 0.025, 0.03, 0.035, 0.045, 0.05, 0.055, 0.065, 0.07, 0.075, 0.085, 0.09, 0.095, 0.105], "tickSize": -6, "tickWidth": 1.5, "labels": false, "title": null}},
           "y": {"field": "P", "type": "quantitative", "scale": {"domain": [0, 29], "nice": false, "zero": false}, "axis": {"orient": "right", "values": [1, 2, 3, 4, 6, 7, 8, 9, 11, 12, 13, 14, 16, 17, 18, 19, 21, 22, 23, 24, 26, 27, 28], "tickSize": -7, "tickWidth": 1.5, "labels": false, "title": null}}
         }},
        {"data": {"name": "lines_b"}, "mark": {"type": "line", "strokeWidth": 2, "interpolate": "catmull-rom", "clip": true},
         "encoding": {"detail": {"field": "c", "type": "nominal"}, "order": {"field": "i", "type": "quantitative"},
           "color": {"field": "ph", "type": "nominal", "legend": null, "scale": {"domain": ["A20","Hexagonal","Diamond","SimpleCubic","A7","betaSn","HexagonalLow","BCC","FCC","A20Low","dia","sc"], "range": ["#7221bc","#008b00","#ff0000","#ff0000","#0000ff","#0000ff","#ffa500","#ff00ff","#000000","#00ff00","#000000","#ff0000"]}}}},
        {"data": {"name": "dots_b"}, "mark": {"type": "point", "filled": true, "size": 55, "opacity": 1},
         "encoding": {"color": {"field": "ph", "type": "nominal", "legend": null, "scale": {"domain": ["A20","Hexagonal","Diamond","SimpleCubic","A7","betaSn","HexagonalLow","BCC","FCC","A20Low","dia","sc"], "range": ["#7221bc","#008b00","#ff0000","#ff0000","#0000ff","#0000ff","#ffa500","#ff00ff","#000000","#00ff00","#000000","#ff0000"]}}}},
        {"data": {"name": "arrows_b"}, "mark": {"type": "rule", "strokeWidth": 1.5},
         "encoding": {"x2": {"field": "T2"}, "y2": {"field": "P2"}, "color": {"field": "ph", "type": "nominal", "legend": null, "scale": {"domain": ["A20","Hexagonal","Diamond","SimpleCubic","A7","betaSn","HexagonalLow","BCC","FCC","A20Low","dia","sc"], "range": ["#7221bc","#008b00","#ff0000","#ff0000","#0000ff","#0000ff","#ffa500","#ff00ff","#000000","#00ff00","#000000","#ff0000"]}}}},
        {"data": {"name": "heads_b"}, "transform": [{"filter": "datum.ph !== 'betaSn'"}], "mark": {"type": "point", "shape": "triangle-up", "filled": true, "size": 40, "angle": 38, "opacity": 1},
         "encoding": {"color": {"field": "ph", "type": "nominal", "legend": null, "scale": {"domain": ["A20","Hexagonal","Diamond","SimpleCubic","A7","betaSn","HexagonalLow","BCC","FCC","A20Low","dia","sc"], "range": ["#7221bc","#008b00","#ff0000","#ff0000","#0000ff","#0000ff","#ffa500","#ff00ff","#000000","#00ff00","#000000","#ff0000"]}}}},
        {"data": {"name": "heads_b"}, "transform": [{"filter": "datum.ph === 'betaSn'"}], "mark": {"type": "point", "shape": "triangle-up", "filled": true, "size": 35, "angle": 190, "opacity": 1},
         "encoding": {"color": {"field": "ph", "type": "nominal", "legend": null, "scale": {"domain": ["A20","Hexagonal","Diamond","SimpleCubic","A7","betaSn","HexagonalLow","BCC","FCC","A20Low","dia","sc"], "range": ["#7221bc","#008b00","#ff0000","#ff0000","#0000ff","#0000ff","#ffa500","#ff00ff","#000000","#00ff00","#000000","#ff0000"]}}}},
        {"data": {"name": "lab_b27"}, "mark": {"type": "text", "fontSize": 27, "align": "center", "baseline": "middle"},
         "encoding": {"text": {"field": "label"}, "color": {"field": "ph", "type": "nominal", "legend": null, "scale": {"domain": ["A20","Hexagonal","Diamond","SimpleCubic","A7","betaSn","HexagonalLow","BCC","FCC","A20Low","dia","sc"], "range": ["#7221bc","#008b00","#ff0000","#ff0000","#0000ff","#0000ff","#ffa500","#ff00ff","#000000","#00ff00","#000000","#ff0000"]}}}},
        {"data": {"values": [{"T": 0.01512, "P": 6.53, "label": "A20"}]}, "mark": {"type": "text", "fontSize": 22, "color": "#00ff00", "align": "center", "baseline": "middle"},
         "encoding": {"text": {"field": "label"}}},
        {"data": {"values": [{"T": 0.02493, "P": 9.94, "label": "Hexagonal"}]}, "mark": {"type": "text", "fontSize": 18, "color": "#ffa500", "align": "center", "baseline": "middle"},
         "encoding": {"text": {"field": "label"}}},
        {"data": {"values": [{"T": 0.01251, "P": 11.59, "label": "βSn"}]}, "mark": {"type": "text", "fontSize": 14, "color": "#0000ff", "align": "center", "baseline": "middle"},
         "encoding": {"text": {"field": "label"}}},
        {"data": {"values": [{"T": 0.0576, "P": 22.65, "label": "Fluid"}]}, "mark": {"type": "text", "fontSize": 23, "fontStyle": "italic", "color": "black", "align": "center", "baseline": "middle"},
         "encoding": {"text": {"field": "label"}}},
        {"data": {"values": [{"T": 0.1053, "P": 27.41, "label": "(b)"}]}, "mark": {"type": "text", "fontSize": 22, "color": "black", "align": "center", "baseline": "middle"},
         "encoding": {"text": {"field": "label"}}}
      ]
    },
    {
      "encoding": {
        "x": {"field": "r", "type": "quantitative", "scale": {"domain": [0.6, 1.735], "range": [399.5, 528], "nice": false, "zero": false}, "axis": null},
        "y": {"field": "v", "type": "quantitative", "scale": {"domain": [-0.15, 1], "range": [320.7, 59], "nice": false, "zero": false}, "axis": null}
      },
      "resolve": {"axis": {"x": "independent", "y": "independent"}},
      "layer": [
        {"data": {"values": [{"r0": 0.6, "r1": 1.735, "v0": -0.15, "v1": 1}]}, "mark": {"type": "rect", "filled": false, "stroke": "black", "strokeWidth": 2},
         "encoding": {
           "x": {"field": "r0", "type": "quantitative", "scale": {"domain": [0.6, 1.735], "range": [399.5, 528], "nice": false, "zero": false}, "axis": {"orient": "bottom", "offset": -206.4, "values": [1, 1.5], "tickSize": 5, "tickWidth": 1.5, "domain": true, "domainColor": "black", "domainWidth": 2, "domainCap": "butt", "labelPadding": 6, "labelFont": "Liberation Serif", "labelFontSize": 17, "format": "~g", "title": null}},
           "x2": {"field": "r1"},
           "y": {"field": "v0", "type": "quantitative", "scale": {"domain": [-0.15, 1], "range": [320.7, 59], "nice": false, "zero": false}, "axis": {"orient": "left", "offset": -399.5, "values": [-0.1, 0, 0.2, 0.4, 0.6, 0.8, 1], "tickSize": -6, "tickWidth": 1.5, "labelPadding": 10, "labelFont": "Liberation Serif", "labelFontSize": 17, "format": "~g", "title": null}},
           "y2": {"field": "v1"}
         }},
        {"data": {"name": "inset_d"}, "mark": {"type": "line", "strokeWidth": 2, "interpolate": "catmull-rom", "color": "black"},
         "encoding": {
           "x": {"field": "r", "type": "quantitative", "scale": {"domain": [0.6, 1.735], "range": [399.5, 528], "nice": false, "zero": false}, "axis": {"orient": "bottom", "offset": -206.4, "values": [0.625, 0.75, 0.875, 1.125, 1.25, 1.375, 1.625], "tickSize": 3, "tickWidth": 1.2, "labels": false, "title": null}},
           "y": {"field": "v", "type": "quantitative", "scale": {"domain": [-0.15, 1], "range": [320.7, 59], "nice": false, "zero": false}, "axis": {"orient": "left", "offset": -399.5, "values": [0.1, 0.3, 0.5, 0.7, 0.9], "tickSize": -3, "tickWidth": 1.2, "labels": false, "title": null}},
           "order": {"field": "i", "type": "quantitative"}
         }},
        {"data": {"values": [{"r": 1.444, "v": 0.872, "label": "(d)"}, {"r": 1.055, "v": 0.051, "label": "r/σ"}]}, "mark": {"type": "text", "fontSize": 21, "align": "left", "baseline": "alphabetic", "color": "black"},
         "encoding": {"text": {"field": "label"}}},
        {"data": {"values": [{"r": 0.233, "v": 0.205, "label": "φ"}, {"r": 0.233, "v": 0.363, "label": "-"}, {"r": 0.233, "v": 0.407, "label": "φ"}]}, "mark": {"type": "text", "fontSize": 24, "angle": 270, "align": "left", "baseline": "alphabetic", "color": "black"},
         "encoding": {"text": {"field": "label"}}},
        {"data": {"values": [{"r": 0.269, "v": 0.288, "label": "sc"}, {"r": 0.269, "v": 0.473, "label": "dia"}]}, "mark": {"type": "text", "fontSize": 16, "angle": 270, "align": "left", "baseline": "alphabetic", "color": "black"},
         "encoding": {"text": {"field": "label"}}}
      ]
    }
  ]
}
]
}
